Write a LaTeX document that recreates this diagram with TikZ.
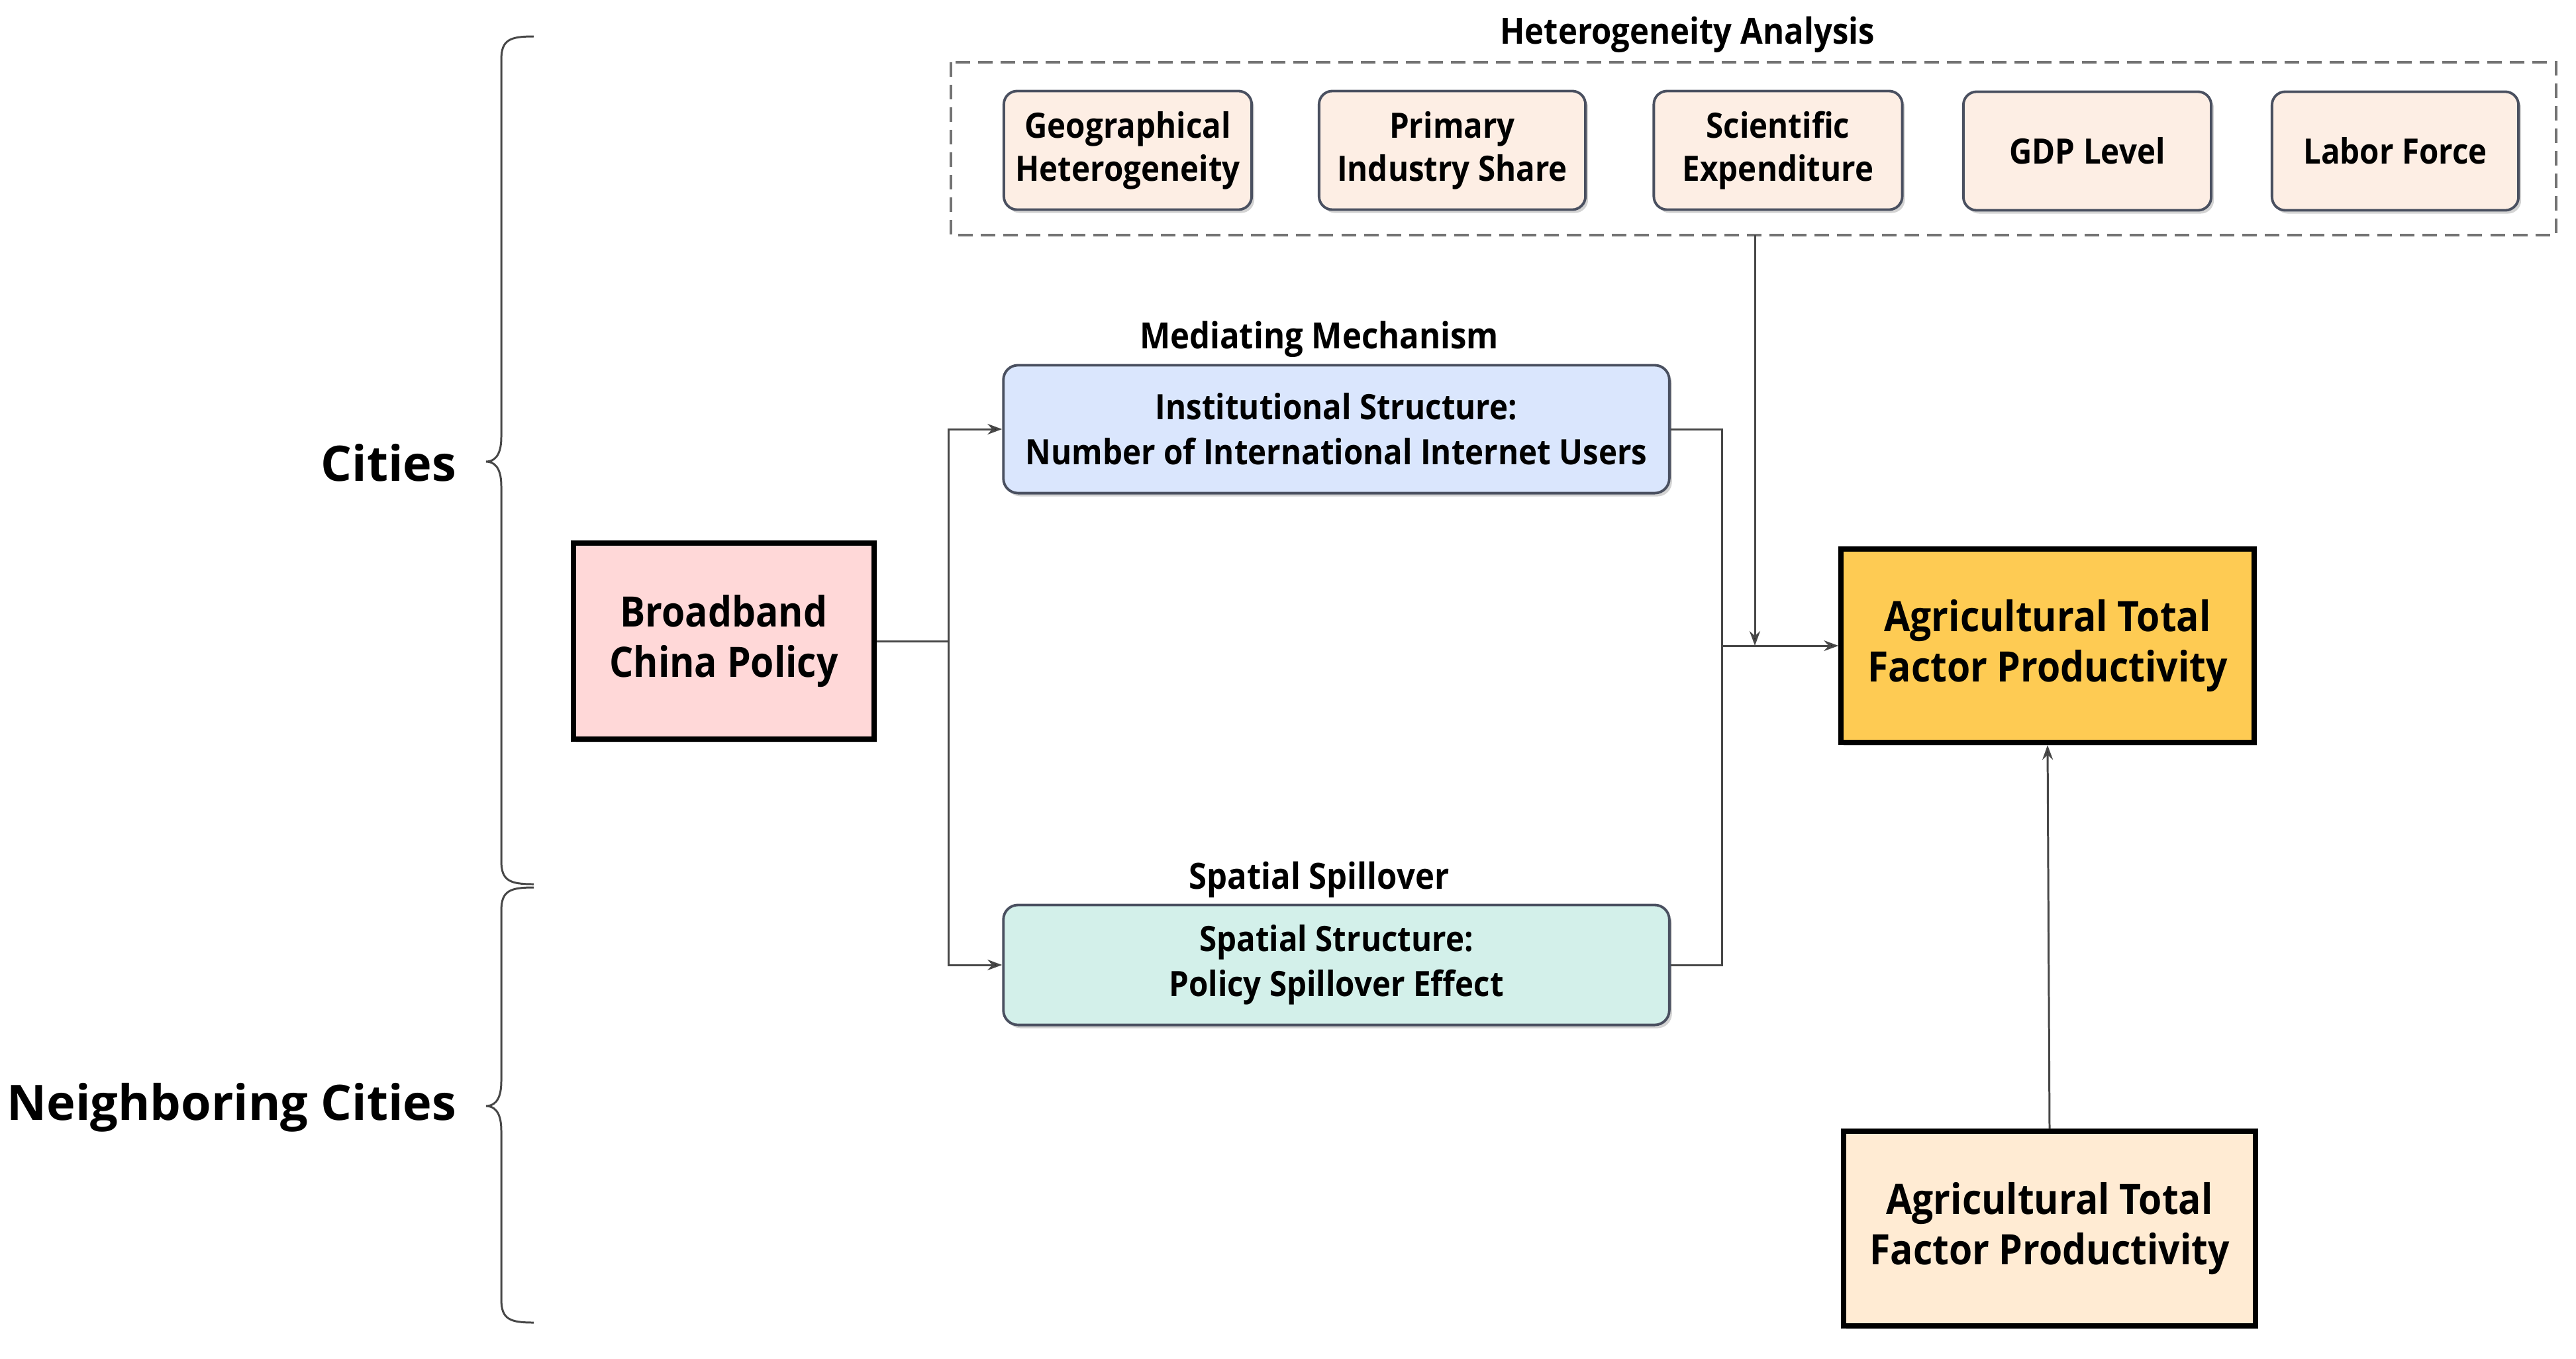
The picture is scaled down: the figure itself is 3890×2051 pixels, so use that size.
\documentclass[tikz,border=0pt]{standalone}
\usepackage{fontspec}
\setmainfont{Open Sans}[FakeStretch=0.9]
\newfontfamily\widefont{Open Sans}
\usetikzlibrary{arrows.meta,shadows}
\definecolor{cpink}{HTML}{FFD8D8}
\definecolor{cblue}{HTML}{DAE6FD}
\definecolor{cmint}{HTML}{D3F0EA}
\definecolor{cpeach}{HTML}{FDEEE4}
\definecolor{cyel}{HTML}{FECB53}
\definecolor{ccream}{HTML}{FFEBD3}
\definecolor{cedge}{HTML}{4A5060}
\definecolor{cline}{HTML}{474747}
\tikzset{
  shad/.style={drop shadow={opacity=0.35,shadow xshift=0.04cm,shadow yshift=-0.05cm}},
  bigbox/.style={draw=black,line width=2.3pt,shad,align=center,inner sep=0pt,
     font=\fontsize{18}{21.8}\selectfont\bfseries},
  roundbox/.style={draw=cedge,line width=1.1pt,rounded corners=0.22cm,shad,align=center,inner sep=0pt,
     font=\fontsize{15}{19.3}\selectfont\bfseries},
  smallbox/.style={draw=cedge,line width=1.1pt,rounded corners=0.2cm,shad,fill=cpeach,align=center,inner sep=0pt,
     minimum width=3.74cm,minimum height=1.79cm,font=\fontsize{15}{18.5}\selectfont\bfseries},
  title/.style={font=\fontsize{15.5}{19}\selectfont\bfseries,inner sep=0pt},
  side/.style={font=\widefont\fontsize{21}{25}\selectfont\bfseries,inner sep=0pt,anchor=east},
  conn/.style={draw=cline,line width=0.85pt},
  arr/.style={conn,-{Stealth[length=0.22cm,width=0.16cm,fill=black]}},
  brace/.style={draw=cline,line width=0.85pt},
}
\begin{document}
\begin{tikzpicture}[x=0.01cm,y=-0.01cm]
\useasboundingbox (0,0) rectangle (3890,2051);

% side labels and braces
\node[side] (cities) at (690,699) {Cities};
\node[side] (neigh) at (690,1672) {Neighboring Cities};
\draw[brace] (806,55) .. controls (770,55) and (757,60) .. (757,90)
  -- (757,660) .. controls (757,690) and (745,697) .. (734,697)
  .. controls (745,697) and (757,704) .. (757,734)
  -- (757,1300) .. controls (757,1330) and (770,1335) .. (806,1335);
\draw[brace] (806,1340) .. controls (770,1340) and (757,1345) .. (757,1375)
  -- (757,1633) .. controls (757,1663) and (745,1670) .. (734,1670)
  .. controls (745,1670) and (757,1677) .. (757,1707)
  -- (757,1962) .. controls (757,1992) and (770,1997) .. (806,1997);

% heterogeneity
\node[title] (hettitle) at (2548,52) {Heterogeneity Analysis};
\draw[draw=gray!90!black,line width=1.1pt,dash pattern=on 0.22cm off 0.12cm] (1436,94) rectangle (3860,355);
\coordinate (hetbot) at (2650,355);
\node[smallbox] (geo) at (1703,227) {Geographical\\Heterogeneity};
\node[smallbox,minimum width=4.02cm] (prim) at (2193,227) {Primary\\Industry Share};
\node[smallbox,minimum width=3.75cm] (sci) at (2685,227) {Scientific\\Expenditure};
\node[smallbox] (gdp) at (3152,228) {GDP Level};
\node[smallbox,minimum width=3.72cm] (lab) at (3617,228) {Labor Force};

% main nodes
\node[bigbox,fill=cpink,minimum width=4.54cm,minimum height=2.95cm] (bb) at (1093,968) {Broadband\\China Policy};
\node[title] (medt) at (1992,512) {Mediating Mechanism};
\node[roundbox,fill=cblue,minimum width=10.05cm,minimum height=1.93cm] (inst) at (2018,648) {Institutional Structure:\\Number of International Internet Users};
\node[title] (spt) at (1992,1328) {Spatial Spillover};
\node[roundbox,fill=cmint,minimum width=10.05cm,minimum height=1.81cm] (spat) at (2018,1457) {Spatial Structure:\\Policy Spillover Effect};
\node[bigbox,fill=cyel,minimum width=6.23cm,minimum height=2.92cm] (atfp) at (3092,975) {Agricultural Total\\Factor Productivity};
\node[bigbox,fill=ccream,minimum width=6.22cm,minimum height=2.93cm] (atfp2) at (3095,1855) {Agricultural Total\\Factor Productivity};

% connectors
\coordinate (j1) at (1432,968);
\draw[conn] (bb.east) -- (j1);
\draw[arr] (j1) |- (inst.west);
\draw[arr] (j1) |- (spat.west);
\coordinate (j2) at (2600,975);
\draw[conn] (inst.east) -| (j2);
\draw[conn] (spat.east) -| (j2);
\draw[arr] (j2) -- (atfp.west);
\coordinate (j3) at (2650,975);
\draw[arr] (hetbot) -- (j3);
\draw[arr] (atfp2.north) -- (atfp.south);
\end{tikzpicture}
\end{document}
